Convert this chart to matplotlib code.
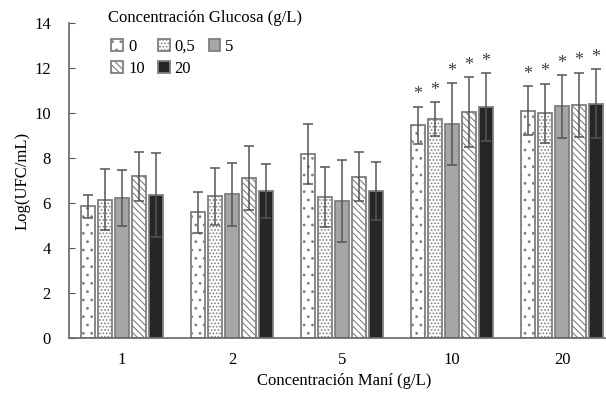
import numpy as np
import matplotlib
matplotlib.use('Agg')
import matplotlib.pyplot as plt

plt.rcParams['font.family'] = ['Liberation Serif', 'DejaVu Serif']
plt.rcParams['hatch.linewidth'] = 0.8

# Datos
mani = ['1', '2', '5', '10', '20']
glucosa = ['0', '0,5', '5', '10', '20']

media = np.array([
    [5.85, 6.15, 6.22, 7.18, 6.36],   # glucosa 0 / 0,5 / 5 / 10 / 20 para maní 1
    [5.58, 6.30, 6.38, 7.10, 6.55],   # maní 2
    [8.18, 6.25, 6.08, 7.16, 6.55],   # maní 5
    [9.45, 9.74, 9.50, 10.03, 10.25],  # maní 10
    [10.11, 9.99, 10.30, 10.36, 10.42],  # maní 20
])
error = np.array([
    [0.50, 1.35, 1.26, 1.08, 1.87],
    [0.90, 1.27, 1.40, 1.42, 1.20],
    [1.35, 1.33, 1.82, 1.09, 1.29],
    [0.83, 0.74, 1.82, 1.55, 1.51],
    [1.07, 1.32, 1.39, 1.44, 1.53],
])
# asteriscos (diferencia significativa)
signif = [False, False, False, True, True]

estilos = [
    dict(color='white', hatch='..'),
    dict(color='white', hatch='.....'),
    dict(color='#a6a6a6', hatch=None),
    dict(color='white', hatch='\\\\\\\\\\'),
    dict(color='#262626', hatch=None),
]

fig = plt.figure(figsize=(6.06, 3.94), dpi=100)
ax = fig.add_axes([0.1139, 0.1421, 0.9076, 0.7995])

x = np.arange(len(mani))
paso = 0.1545
ancho = 0.127
handles = []
for j in range(len(glucosa)):
    pos = x + (j - 2) * paso
    b = ax.bar(pos, media[:, j], width=ancho, facecolor=estilos[j]['color'],
               hatch=estilos[j]['hatch'], edgecolor='#7f7f7f', linewidth=1.3,
               label=glucosa[j], zorder=2)
    handles.append(b)
    ax.errorbar(pos, media[:, j], yerr=error[:, j], fmt='none', ecolor='#555555',
                elinewidth=1.1, capsize=3.5, capthick=1.1, zorder=3)
    for i in range(len(mani)):
        if signif[i]:
            ax.text(pos[i], media[i, j] + error[i, j] + 0.15, '*', ha='center', va='bottom',
                    fontsize=13, color='#404040')

ax.set_xlim(-0.482, 4.518)
ax.set_ylim(0, 14)
ax.set_yticks(np.arange(0, 15, 2))
ax.set_xticks(x)
ax.set_xticklabels(mani)
ax.tick_params(axis='y', direction='in', length=4, color='#555555', labelsize=12, pad=13)
ax.tick_params(axis='x', length=0, labelsize=12, pad=10)
for s in ['top', 'right']:
    ax.spines[s].set_visible(False)
for s in ['left', 'bottom']:
    ax.spines[s].set_color('#666666')
    ax.spines[s].set_linewidth(1.2)

ax.set_xlabel('Concentración Maní (g/L)', fontsize=12, labelpad=4)
ax.set_ylabel('Log(UFC/mL)', fontsize=12, labelpad=3)

# leyenda por filas, con el título aparte
fig.text(108 / 606, 1 - 18 / 394, 'Concentración Glucosa (g/L)', fontsize=12, va='center', ha='left')
orden = [0, 3, 1, 4, 2]
leg = ax.legend([handles[k] for k in orden], [glucosa[k] for k in orden], ncol=3,
                loc='upper left', bbox_to_anchor=(0.170, 0.923), bbox_transform=fig.transFigure,
                frameon=False, fontsize=12, handlelength=0.7, handleheight=0.7,
                handletextpad=0.3, columnspacing=0.8, labelspacing=0.35, borderpad=0)

fig.savefig('out.png', dpi=100)
